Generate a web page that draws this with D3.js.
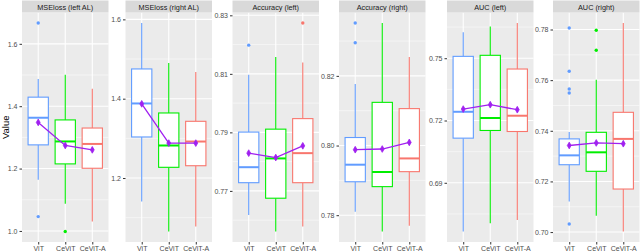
<!DOCTYPE html>
<html>
<head>
<meta charset="utf-8">
<script src="https://cdn.jsdelivr.net/npm/d3@7"></script>
<style>
  body { margin: 0; background: #fff; }
  svg text { font-family: "Liberation Sans", Arial, sans-serif; }
</style>
</head>
<body>
<svg id="chart"></svg>
<script>
// facet titles and groups
const panels = ["MSEloss (left AL)", "MSEloss (right AL)", "Accuracy (left)",
                "Accuracy (right)", "AUC (left)", "AUC (right)"];
const models = ["ViT", "CeViT", "CeViT-A"];
const colors = ["#619CFF", "#00EE00", "#F8766D"];

// box statistics per panel, one value per model (ViT, CeViT, CeViT-A)
const whiskerLow = [[1.164, 1.087, 1.030], [1.141, 1.065, 1.078], [0.7618, 0.7561, 0.7578],
                    [0.7810, 0.7753, 0.7770], [0.6665, 0.6705, 0.6721], [0.7121, 0.7064, 0.7002]];
const q1 =         [[1.276, 1.215, 1.201], [1.3035, 1.227, 1.231], [0.7728, 0.7675, 0.7728],
                    [0.7896, 0.7882, 0.7925], [0.7115, 0.7152, 0.7147], [0.7266, 0.7240, 0.7170]];
const median =     [[1.363, 1.287, 1.279], [1.388, 1.282, 1.292], [0.7781, 0.7811, 0.7829],
                    [0.7945, 0.7924, 0.7963], [0.7242, 0.7212, 0.7223], [0.7303, 0.7315, 0.7368]];
const q3 =         [[1.429, 1.356, 1.330], [1.475, 1.364, 1.343], [0.7901, 0.7911, 0.7947],
                    [0.8023, 0.8124, 0.8106], [0.7509, 0.7514, 0.7448], [0.7368, 0.7394, 0.7473]];
const whiskerHigh = [[1.487, 1.501, 1.456], [1.591, 1.490, 1.467], [0.8097, 0.8158, 0.8139],
                    [0.8177, 0.8352, 0.8254], [0.7625, 0.7653, 0.7670], [0.7395, 0.7602, 0.7826]];
const means =      [[1.348, 1.274, 1.260], [1.387, 1.288, 1.288], [0.7829, 0.7814, 0.7854],
                    [0.7988, 0.7990, 0.8009], [0.7255, 0.7276, 0.7252], [0.7342, 0.7352, 0.7349]];
const outliers = [
  [[1.667, 1.046], [0.998], []],
  [[], [], []],
  [[0.8198], [], [0.8274]],
  [[0.8352, 0.8295], [], []],
  [[], [], []],
  [[0.7806, 0.7635, 0.7565, 0.7549, 0.7032], [0.7797, 0.7718], []]
];

// y tick labels per panel
const tickValues = [[1.0, 1.2, 1.4, 1.6], [1.2, 1.4, 1.6], [0.77, 0.79, 0.81, 0.83],
                    [0.78, 0.80, 0.82], [0.69, 0.72, 0.75], [0.70, 0.72, 0.74, 0.76, 0.78]];
const tickDigits = [1, 1, 2, 2, 2, 2];

// layout
const width = 640, height = 251;
const panelLeft = [22, 125.5, 232.5, 339, 447, 553];
const panelW = 86.5;
const stripTop = 0.5, stripH = 12, panelTop = 12.5, panelBottom = 242;

const svg = d3.select("#chart").attr("width", width).attr("height", height);

svg.append("text")
  .attr("transform", `translate(9,${(panelTop + panelBottom) / 2}) rotate(-90)`)
  .attr("text-anchor", "middle")
  .attr("font-size", 9.5)
  .attr("fill", "#000")
  .text("Value");

panels.forEach((title, p) => {
  const g = svg.append("g").attr("transform", `translate(${panelLeft[p]},0)`);

  const x = d3.scalePoint().domain(models).range([0, panelW]).padding(0.6);
  const boxW = 0.75 * x.step();

  // data extent with ggplot's 5% expansion
  const all = [].concat(whiskerLow[p], whiskerHigh[p], means[p], ...outliers[p]);
  const lo = d3.min(all), hi = d3.max(all), pad = (hi - lo) * 0.05;
  const y = d3.scaleLinear().domain([lo - pad, hi + pad]).range([panelBottom, panelTop]);

  // panel background
  g.append("rect").attr("x", 0).attr("y", panelTop).attr("width", panelW)
    .attr("height", panelBottom - panelTop).attr("fill", "#EBEBEB");

  // minor grid
  const t = tickValues[p], step = t[1] - t[0];
  const minor = [];
  for (let v = t[0] - step / 2; v <= hi + pad; v += step) {
    if (v >= lo - pad) minor.push(v);
  }
  g.selectAll(".minor").data(minor).join("line")
    .attr("x1", 0).attr("x2", panelW)
    .attr("y1", d => y(d)).attr("y2", d => y(d))
    .attr("stroke", "#fff").attr("stroke-width", 0.5);

  // major grid
  g.selectAll(".major").data(t).join("line")
    .attr("x1", 0).attr("x2", panelW)
    .attr("y1", d => y(d)).attr("y2", d => y(d))
    .attr("stroke", "#fff").attr("stroke-width", 1.1);
  g.selectAll(".vgrid").data(models).join("line")
    .attr("x1", d => x(d)).attr("x2", d => x(d))
    .attr("y1", panelTop).attr("y2", panelBottom)
    .attr("stroke", "#fff").attr("stroke-width", 1.1);

  // strip
  g.append("rect").attr("x", 0).attr("y", stripTop).attr("width", panelW)
    .attr("height", stripH).attr("fill", "#D9D9D9");
  g.append("text").attr("x", panelW / 2).attr("y", stripTop + stripH / 2 + 3)
    .attr("text-anchor", "middle").attr("font-size", 7.3).attr("fill", "#1A1A1A")
    .text(title);

  // y axis
  const yAxis = d3.axisLeft(y).tickValues(t).tickSize(2.5).tickPadding(2)
    .tickFormat(d3.format(`.${tickDigits[p]}f`));
  const ya = g.append("g").call(yAxis);
  ya.select(".domain").remove();
  ya.selectAll("line").attr("stroke", "#333").attr("stroke-width", 1);
  ya.selectAll("text").attr("font-size", 7).attr("fill", "#4D4D4D")
    .style("font-family", "'Liberation Sans', Arial, sans-serif");

  // x axis
  const xAxis = d3.axisBottom(x).tickSize(2.5).tickPadding(1.5);
  const xa = g.append("g").attr("transform", `translate(0,${panelBottom})`).call(xAxis);
  xa.select(".domain").remove();
  xa.selectAll("line").attr("stroke", "#333").attr("stroke-width", 1);
  xa.selectAll("text").attr("font-size", 7).attr("fill", "#4D4D4D")
    .style("font-family", "'Liberation Sans', Arial, sans-serif");

  // boxes
  const rows = models.map((m, i) => ({
    m, c: colors[i], lw: whiskerLow[p][i], q1: q1[p][i], md: median[p][i],
    q3: q3[p][i], hw: whiskerHigh[p][i], mean: means[p][i], out: outliers[p][i]
  }));

  const box = g.selectAll(".box").data(rows).join("g").attr("class", "box");
  box.append("line")
    .attr("x1", d => x(d.m)).attr("x2", d => x(d.m))
    .attr("y1", d => y(d.hw)).attr("y2", d => y(d.q3))
    .attr("stroke", d => d.c).attr("stroke-width", 1.1);
  box.append("line")
    .attr("x1", d => x(d.m)).attr("x2", d => x(d.m))
    .attr("y1", d => y(d.q1)).attr("y2", d => y(d.lw))
    .attr("stroke", d => d.c).attr("stroke-width", 1.1);
  box.append("rect")
    .attr("x", d => x(d.m) - boxW / 2).attr("width", boxW)
    .attr("y", d => y(d.q3)).attr("height", d => y(d.q1) - y(d.q3))
    .attr("fill", "#fff").attr("stroke", d => d.c).attr("stroke-width", 1.1);
  box.append("line")
    .attr("x1", d => x(d.m) - boxW / 2).attr("x2", d => x(d.m) + boxW / 2)
    .attr("y1", d => y(d.md)).attr("y2", d => y(d.md))
    .attr("stroke", d => d.c).attr("stroke-width", 2);
  box.selectAll(".out").data(d => d.out.map(v => ({ v, m: d.m, c: d.c }))).join("circle")
    .attr("cx", d => x(d.m)).attr("cy", d => y(d.v)).attr("r", 1.7)
    .attr("fill", d => d.c);

  // mean line and points
  const line = d3.line().x(d => x(d.m)).y(d => y(d.mean));
  g.append("path").datum(rows).attr("d", line)
    .attr("fill", "none").attr("stroke", "#A020F0").attr("stroke-width", 1.3);
  g.selectAll(".meanpt").data(rows).join("path")
    .attr("transform", d => `translate(${x(d.m)},${y(d.mean)})`)
    .attr("d", d3.symbol(d3.symbolDiamond, 13))
    .attr("fill", "#A020F0").attr("stroke", "#A020F0").attr("stroke-width", 0.8);
});
</script>
</body>
</html>
